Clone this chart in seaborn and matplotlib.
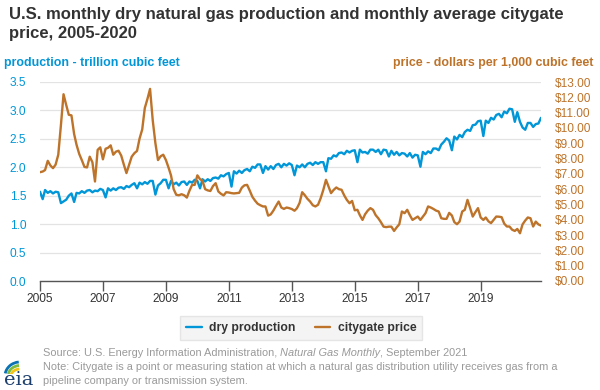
import numpy as np
import pandas as pd
import matplotlib
matplotlib.use("Agg")
import matplotlib.pyplot as plt
import seaborn as sns
from matplotlib.patches import Arc
from matplotlib.ticker import FuncFormatter, MultipleLocator

# ---------------- data (monthly, Jan 2005 - Dec 2020) ----------------
production = [
    # 2005
    1.57, 1.44, 1.60, 1.55, 1.58, 1.54, 1.57, 1.56, 1.37, 1.40, 1.43, 1.50,
    # 2006
    1.54, 1.39, 1.55, 1.54, 1.58, 1.55, 1.59, 1.60, 1.56, 1.59, 1.58, 1.62,
    # 2007
    1.60, 1.47, 1.63, 1.59, 1.63, 1.60, 1.64, 1.65, 1.62, 1.67, 1.65, 1.69,
    # 2008
    1.72, 1.63, 1.73, 1.70, 1.74, 1.71, 1.76, 1.76, 1.52, 1.68, 1.72, 1.78,
    # 2009
    1.78, 1.63, 1.76, 1.70, 1.73, 1.68, 1.74, 1.75, 1.69, 1.75, 1.73, 1.78,
    # 2010
    1.76, 1.63, 1.79, 1.75, 1.79, 1.76, 1.81, 1.82, 1.80, 1.86, 1.84, 1.88,
    # 2011
    1.90, 1.66, 1.93, 1.89, 1.94, 1.90, 1.95, 1.97, 1.93, 2.01, 1.99, 2.05,
    # 2012
    2.05, 1.90, 2.02, 1.96, 2.02, 1.97, 2.04, 2.06, 2.00, 2.06, 2.03, 2.07,
    # 2013
    2.04, 1.86, 2.03, 2.00, 2.05, 2.00, 2.06, 2.08, 2.04, 2.09, 2.06, 2.09,
    # 2014
    2.09, 1.93, 2.16, 2.15, 2.21, 2.19, 2.25, 2.26, 2.23, 2.29, 2.26, 2.29,
    # 2015
    2.30, 2.09, 2.31, 2.26, 2.27, 2.24, 2.31, 2.31, 2.27, 2.31, 2.23, 2.31,
    # 2016
    2.30, 2.19, 2.29, 2.22, 2.27, 2.21, 2.25, 2.24, 2.19, 2.25, 2.17, 2.22,
    # 2017
    2.21, 2.01, 2.27, 2.23, 2.28, 2.25, 2.33, 2.33, 2.30, 2.40, 2.45, 2.51,
    # 2018
    2.47, 2.30, 2.54, 2.49, 2.57, 2.53, 2.62, 2.66, 2.64, 2.74, 2.75, 2.81,
    # 2019
    2.82, 2.55, 2.82, 2.78, 2.87, 2.84, 2.92, 2.94, 2.88, 2.98, 2.95, 3.03,
    # 2020
    3.02, 2.80, 2.97, 2.80, 2.70, 2.66, 2.78, 2.78, 2.71, 2.76, 2.77, 2.87,
]

price = [
    # 2005
    7.11, 7.15, 7.25, 7.85, 7.55, 7.37, 7.60, 8.25, 10.20, 12.20, 11.50, 10.86,
    # 2006
    10.82, 9.60, 8.90, 8.30, 7.90, 7.45, 7.42, 8.12, 7.76, 6.50, 8.57, 8.73,
    # 2007
    7.95, 8.64, 8.70, 8.86, 8.25, 8.45, 8.51, 8.20, 7.60, 7.05, 7.60, 8.12,
    # 2008
    8.35, 8.50, 9.30, 9.90, 11.30, 11.90, 12.55, 10.50, 9.00, 7.90, 8.15, 8.25,
    # 2009
    7.90, 7.40, 6.90, 6.00, 5.63, 5.60, 5.67, 5.60, 5.45, 5.90, 6.28, 6.28,
    # 2010
    6.90, 6.65, 6.55, 6.00, 5.92, 5.88, 6.20, 6.39, 5.85, 5.70, 5.59, 5.80,
    # 2011
    5.78, 5.74, 5.72, 5.74, 5.76, 6.10, 6.25, 6.28, 5.90, 5.50, 5.25, 5.05,
    # 2012
    4.95, 4.87, 4.87, 4.27, 4.35, 4.60, 4.90, 5.19, 4.80, 4.71, 4.80, 4.76,
    # 2013
    4.70, 4.59, 4.75, 5.10, 5.80, 5.60, 5.37, 5.19, 4.95, 4.87, 4.98, 5.40,
    # 2014
    5.95, 6.61, 6.20, 5.74, 5.95, 6.11, 6.00, 5.96, 5.59, 5.30, 5.08, 5.23,
    # 2015
    4.62, 4.65, 4.30, 3.99, 4.36, 4.60, 4.76, 4.65, 4.30, 4.10, 3.84, 3.55,
    # 2016
    3.52, 3.55, 3.55, 3.27, 3.50, 3.71, 4.54, 4.43, 4.65, 4.30, 3.99, 4.10,
    # 2017
    4.21, 3.99, 4.20, 4.43, 4.87, 4.80, 4.71, 4.60, 4.54, 4.10, 4.06, 4.06,
    # 2018
    4.45, 4.28, 3.85, 3.71, 3.88, 4.54, 4.65, 5.30, 4.76, 4.21, 4.50, 4.76,
    # 2019
    4.15, 3.99, 4.15, 3.90, 3.78, 4.00, 4.21, 4.20, 4.17, 3.75, 3.56, 3.56,
    # 2020
    3.35, 3.27, 3.40, 3.12, 3.70, 3.95, 4.15, 4.10, 3.56, 3.88, 3.70, 3.62,
]

tick_years = [2005, 2007, 2009, 2011, 2013, 2015, 2017, 2019]
series_labels = ["dry production", "citygate price"]

BLUE = "#0096D7"
BROWN = "#BD732A"
DARK = "#333333"
GRAY = "#9a9a9a"

# ---------------- figure ----------------
sns.set_theme(style="white")
plt.rcParams['font.family'] = ['Liberation Sans', 'DejaVu Sans']

dates = pd.date_range("2005-01-01", periods=len(production), freq="MS")
df = pd.DataFrame({"date": dates, "production": production, "price": price})

fig = plt.figure(figsize=(6, 3.9), dpi=100)
ax = fig.add_axes([40 / 600, 1 - 281 / 390, 501 / 600, 199 / 390])

sns.lineplot(data=df, x="date", y="production", ax=ax, color=BLUE,
             linewidth=1.7, legend=False)
ax2 = ax.twinx()
sns.lineplot(data=df, x="date", y="price", ax=ax2, color=BROWN,
             linewidth=1.7, legend=False)

ax.set_ylim(0, 3.5)
ax2.set_ylim(0, 13)
ax.set_xlim(dates[0], dates[-1])
ax.yaxis.set_major_locator(MultipleLocator(0.5))
ax2.yaxis.set_major_locator(MultipleLocator(1))
ax.yaxis.set_major_formatter(FuncFormatter(lambda v, p: f"{v:.1f}"))
ax2.yaxis.set_major_formatter(FuncFormatter(lambda v, p: f"${v:.2f}"))

ax.set_xticks([pd.Timestamp(f"{y}-01-01") for y in tick_years])
ax.set_xticklabels([str(y) for y in tick_years])

ax.grid(axis="y", color="#e3e3e3", linewidth=0.9)
ax.grid(axis="x", visible=False)
ax2.grid(False)
ax.set_axisbelow(True)

for a in (ax, ax2):
    a.set_xlabel("")
    a.set_ylabel("")
    for s in ("top", "left", "right"):
        a.spines[s].set_visible(False)
ax2.spines["bottom"].set_visible(False)
ax.spines["bottom"].set_color("#555555")
ax.spines["bottom"].set_linewidth(1.0)

ax.tick_params(axis="x", direction="out", length=7, width=1.0, color="#555555",
               labelsize=8.6, labelcolor=DARK, pad=2, bottom=True)
ax.tick_params(axis="y", length=0, labelsize=8.6, labelcolor=BLUE, pad=10)
ax2.tick_params(axis="y", length=0, labelsize=8.6, labelcolor=BROWN, pad=10)

# titles and axis captions
fig.text(9 / 600, 1 - 7 / 390,
         "U.S. monthly dry natural gas production and monthly average citygate\nprice, 2005-2020",
         ha="left", va="top", fontsize=12, fontweight="bold", color=DARK,
         linespacing=1.3)
fig.text(4 / 600, 1 - 63 / 390, "production - trillion cubic feet",
         ha="left", va="center", fontsize=8.9, fontweight="bold", color=BLUE)
fig.text(593 / 600, 1 - 63 / 390, "price - dollars per 1,000 cubic feet",
         ha="right", va="center", fontsize=8.9, fontweight="bold", color=BROWN)

# legend
handles = [ax.lines[0], ax2.lines[0]]
leg = fig.legend(handles, series_labels, loc="center",
                 bbox_to_anchor=(301 / 600, 1 - 328 / 390), ncol=2,
                 frameon=True, fancybox=False, facecolor="#f2f2f2",
                 edgecolor="#e0e0e0", handlelength=1.3, handletextpad=0.6,
                 columnspacing=1.6, borderpad=0.5,
                 prop=dict(weight="bold", size=8.7))
for t in leg.get_texts():
    t.set_color(DARK)

# source / note
FS = 7.9
fig.text(43 / 600, 1 - 353 / 390, "Source: U.S. Energy Information Administration, ",
         ha="left", va="center", fontsize=FS, color=GRAY)
src = fig.texts[-1]
fig.canvas.draw()
r = fig.canvas.get_renderer()
bb = src.get_window_extent(r)
x1 = bb.x1 / fig.bbox.width
fig.text(x1, 1 - 353 / 390, "Natural Gas Monthly", ha="left", va="center",
         fontsize=FS, color=GRAY, style="italic")
bb2 = fig.texts[-1].get_window_extent(r)
x2 = bb2.x1 / fig.bbox.width
fig.text(x2, 1 - 353 / 390, ", September 2021", ha="left", va="center",
         fontsize=FS, color=GRAY)
fig.text(43 / 600, 1 - 374 / 390,
         "Note: Citygate is a point or measuring station at which a natural gas distribution utility receives gas from a\npipeline company or transmission system.",
         ha="left", va="center", fontsize=FS, color=GRAY, linespacing=1.5)

# eia logo
fig.text(4 / 600, 1 - 380 / 390, "eia", ha="left", va="center", fontsize=14,
         family="DejaVu Serif", color="#1d3f6e")
lax = fig.add_axes([3 / 600, 1 - 374 / 390, 30 / 600, 16 / 390])
lax.set_xlim(0, 30)
lax.set_ylim(0, 16)
lax.axis("off")
for i, c in enumerate(["#0b72b5", "#7dbb42", "#f3c316"]):
    lax.add_patch(Arc((17, -2), 30 - i * 6, 28 - i * 7, theta1=95, theta2=170,
                      color=c, lw=2.0))

fig.savefig("out.png", dpi=100)
